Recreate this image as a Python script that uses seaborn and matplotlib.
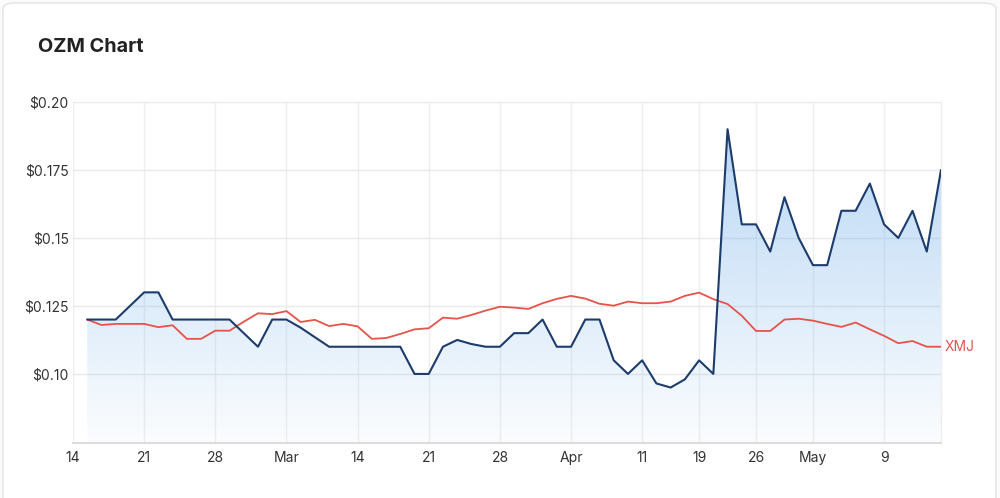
import numpy as np
import pandas as pd
import matplotlib
matplotlib.use("Agg")
import matplotlib.pyplot as plt
from matplotlib.patches import FancyBboxPatch
import seaborn as sns

# ---- data (trading-day index; index 0 = 14 Feb, first point = 15 Feb) ----
ozm = [0.12, 0.12, 0.12, 0.125, 0.13, 0.13, 0.12, 0.12, 0.12, 0.12,
       0.12, 0.115, 0.11, 0.12, 0.12, 0.117, 0.1135, 0.11, 0.11, 0.11,
       0.11, 0.11, 0.11, 0.10, 0.10, 0.11, 0.1125, 0.111, 0.11, 0.11,
       0.115, 0.115, 0.12, 0.11, 0.11, 0.12, 0.12, 0.105, 0.10, 0.105,
       0.0965, 0.095, 0.098, 0.105, 0.10, 0.19, 0.155, 0.155, 0.145, 0.165,
       0.15, 0.14, 0.14, 0.16, 0.16, 0.17, 0.155, 0.15, 0.16, 0.145,
       0.175]
xmj = [0.12, 0.118, 0.1184, 0.1184, 0.1184, 0.1172, 0.1179, 0.1129, 0.1129, 0.1159,
       0.1159, 0.1192, 0.1223, 0.122, 0.1231, 0.1191, 0.1199, 0.1176, 0.1184, 0.1175,
       0.1129, 0.1132, 0.1147, 0.1164, 0.1168, 0.1207, 0.1203, 0.1217, 0.1233, 0.1247,
       0.1244, 0.1239, 0.126, 0.1276, 0.1287, 0.1277, 0.1258, 0.1251, 0.1266, 0.126,
       0.126, 0.1266, 0.1287, 0.1299, 0.1275, 0.1257, 0.1214, 0.1158, 0.1158, 0.12,
       0.1203, 0.1196, 0.1184, 0.1173, 0.1189, 0.1164, 0.114, 0.1113, 0.1121, 0.11,
       0.11]
day_index = list(range(1, len(ozm) + 1))
x_tick_pos = [0, 5, 10, 15, 20, 25, 30, 35, 40, 44, 48, 52, 57]
x_tick_labels = ['14', '21', '28', 'Mar', '14', '21', '28', 'Apr', '11', '19', '26', 'May', '9']
y_ticks = [0.10, 0.125, 0.15, 0.175, 0.20]
y_tick_labels = ['$0.10', '$0.125', '$0.15', '$0.175', '$0.20']

df = pd.DataFrame({'i': day_index, 'OZM': ozm, 'XMJ': xmj})

BLUE = '#1d3c6c'
RED = '#e5534b'
TXT = '#333333'

sns.set_style("white")
plt.rcParams['font.family'] = ['Inter', 'DejaVu Sans']

fig = plt.figure(figsize=(10, 4.98), dpi=100)
fig.patch.set_facecolor('#fbfbfb')
card = FancyBboxPatch((3 / 1000, -30 / 498), 993 / 1000, 525 / 498,
                      boxstyle="round,pad=0,rounding_size=0.012",
                      transform=fig.transFigure, facecolor='white',
                      edgecolor='#e6e6e6', linewidth=1.2, zorder=-10)
fig.add_artist(card)

ax = fig.add_axes([0.073, 1 - 443 / 498, 0.868, (443 - 102) / 498])
ax.set_facecolor('none')
ax.set_zorder(5)

ymin, ymax = 0.0746, 0.20
xmin, xmax = 0, 61

# gradient area under OZM
poly = ax.fill_between(df['i'], df['OZM'], ymin, facecolor='none', edgecolor='none')
grad = np.zeros((256, 1, 4))
grad[:, 0, 0] = 124 / 255
grad[:, 0, 1] = 181 / 255
grad[:, 0, 2] = 236 / 255
grad[:, 0, 3] = np.linspace(0.03, 0.58, 256)
img = ax.imshow(grad, extent=[xmin, xmax, ymin, ymax], aspect='auto',
                origin='lower', zorder=1, interpolation='bilinear')
img.set_clip_path(poly.get_paths()[0], transform=ax.transData)

sns.lineplot(data=df, x='i', y='XMJ', color=RED, linewidth=1.3, ax=ax, zorder=3)
sns.lineplot(data=df, x='i', y='OZM', color=BLUE, linewidth=1.5, ax=ax, zorder=4)

ax.set_xlim(xmin, xmax)
ax.set_ylim(ymin, ymax)
ax.set_xticks(x_tick_pos)
ax.set_xticklabels(x_tick_labels)
ax.set_yticks(y_ticks)
ax.set_yticklabels(y_tick_labels)
ax.set_xlabel('')
ax.set_ylabel('')
ax.tick_params(axis='both', length=0, labelsize=10, colors=TXT)
ax.tick_params(axis='x', pad=6)
ax.tick_params(axis='y', pad=3)
ax.grid(True, axis='y', color='#e9e9e9', linewidth=1)
ax.grid(True, axis='x', color='#eeeeee', linewidth=1)
ax.set_axisbelow(True)
for s in ['top', 'left']:
    ax.spines[s].set_visible(False)
ax.spines['right'].set_color('#eeeeee')
ax.spines['right'].set_linewidth(1)
ax.spines['bottom'].set_color('#dddddd')
ax.spines['bottom'].set_linewidth(1.5)

ax.annotate('XMJ', xy=(df['i'].iloc[-1], df['XMJ'].iloc[-1]), xytext=(4, 0),
            textcoords='offset pixels', color=RED, fontsize=10, va='center',
            ha='left', annotation_clip=False)

fig.text(38 / 1000, 1 - 47 / 498, 'OZM Chart', fontsize=14.3, fontweight='bold',
         color='#222222', va='center', ha='left')

fig.savefig('out.png', dpi=100, facecolor=fig.get_facecolor())
